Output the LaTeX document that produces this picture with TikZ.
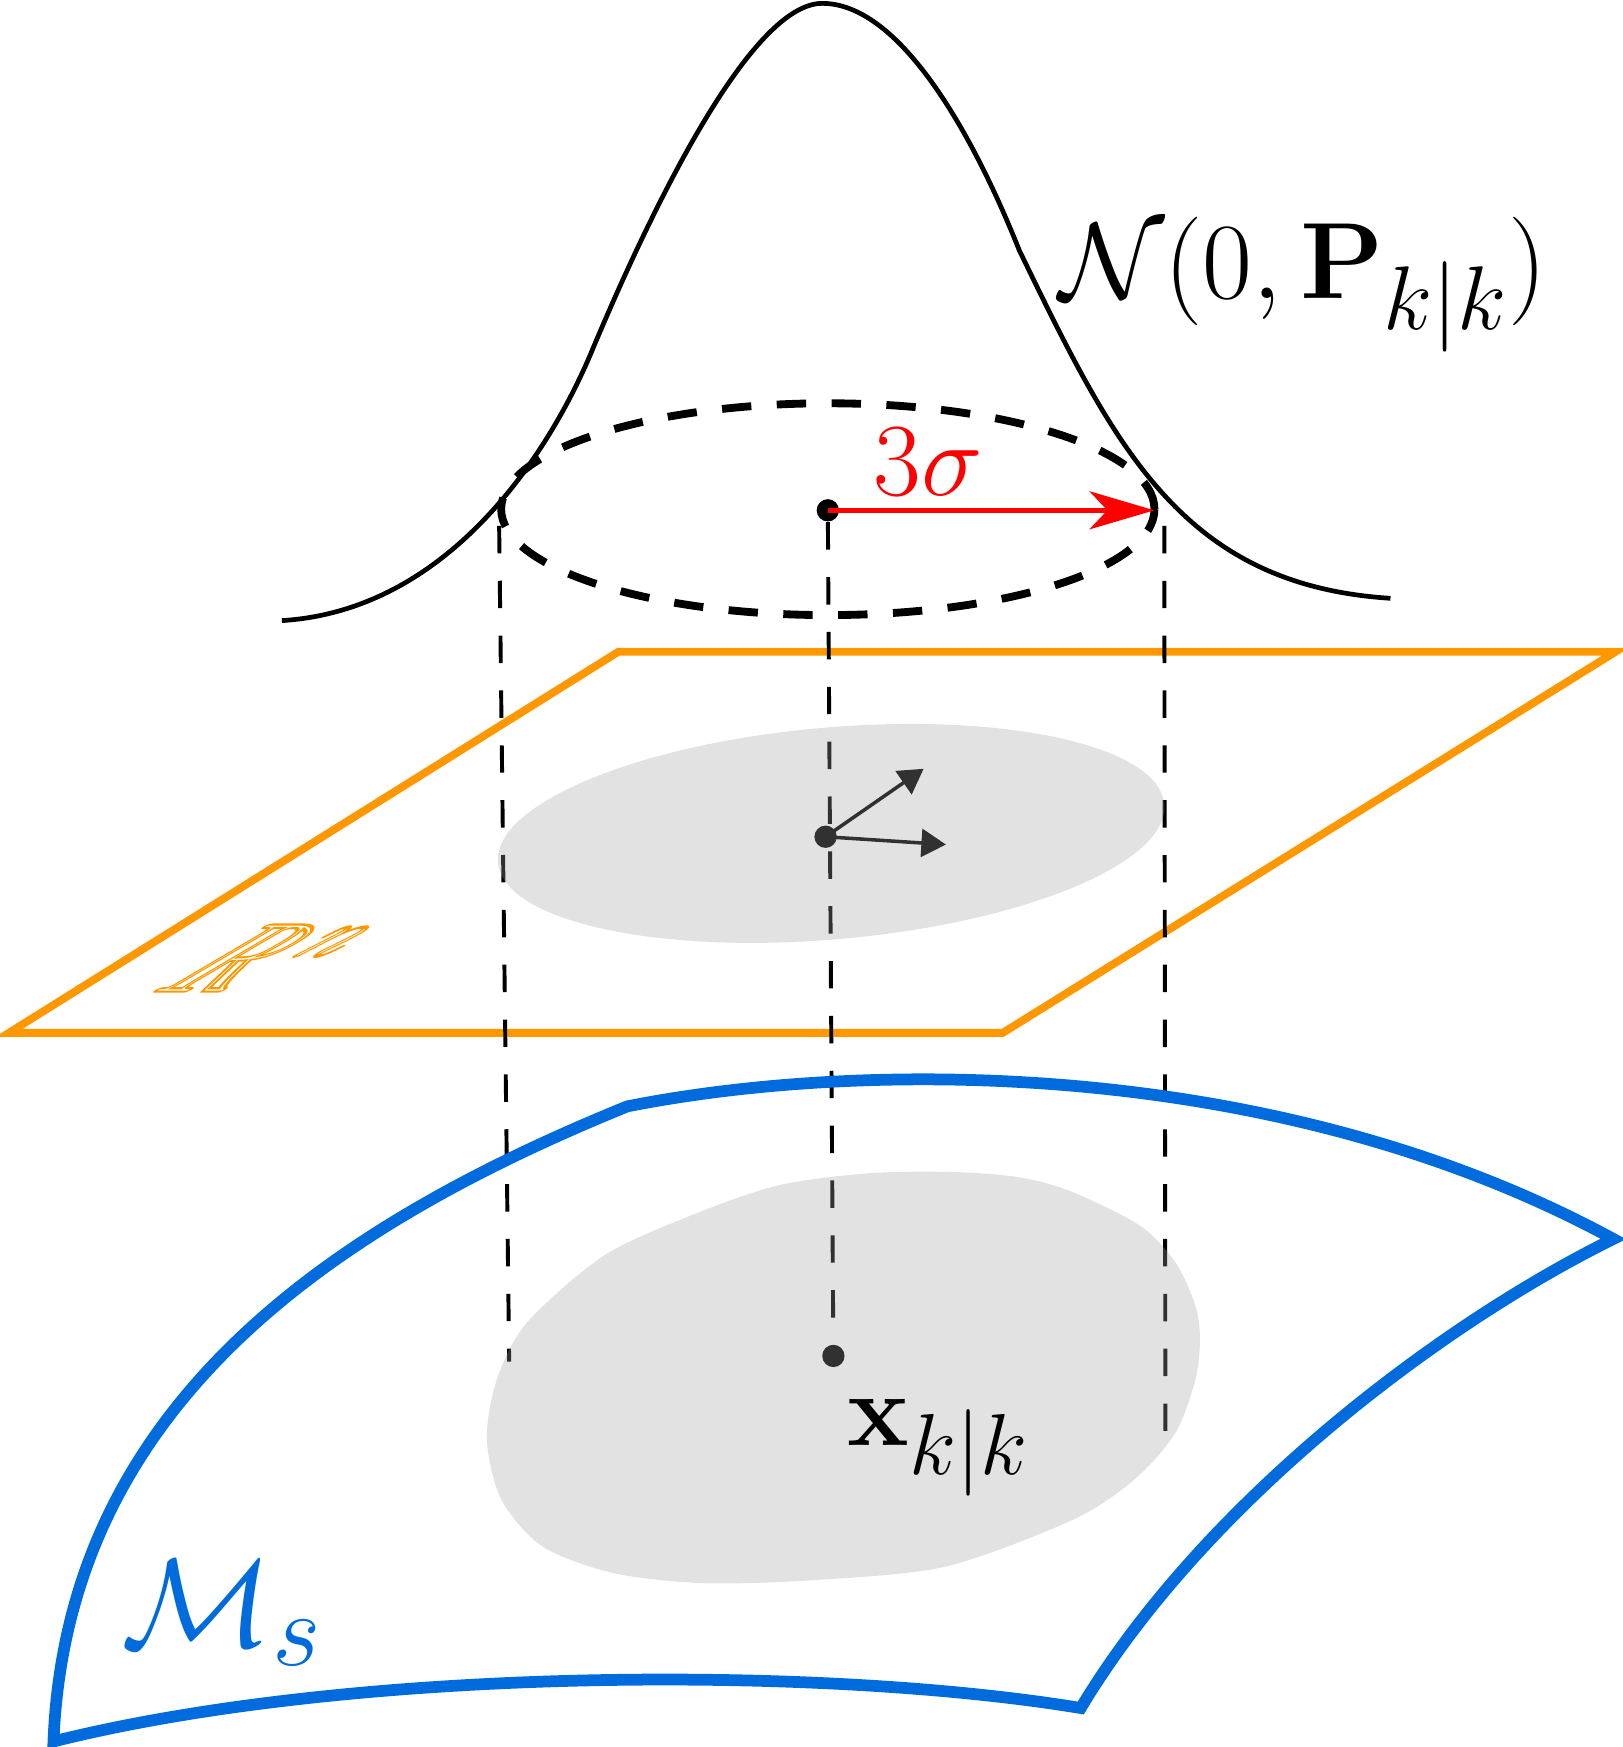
\documentclass[tikz,border=0pt]{standalone}
\usepackage{amssymb}
\usetikzlibrary{arrows.meta}
\definecolor{planeorange}{RGB}{255,152,0}
\definecolor{manblue}{RGB}{0,107,221}
\definecolor{patchgray}{RGB}{161,161,161}
\newcommand{\hollow}[1]{\special{pdf:literal direct 0.55 w 1 Tr}#1\special{pdf:literal direct 0 Tr}}
\begin{document}
\begin{tikzpicture}[x=0.01cm, y=-0.01cm,
  lab/.style={font=\Huge, inner sep=0pt, scale=1.065},
  bellcurve/.style={line width=1.2pt},
  sigring/.style={line width=2pt, dash pattern=on 7.5pt off 6.5pt},
  dropline/.style={line width=1pt, dash pattern=on 7pt off 7pt},
  rnplane/.style={draw=planeorange, line width=2pt},
  manedge/.style={draw=manblue, line width=3pt},
  graypatch/.style={fill=patchgray, fill opacity=0.31},
  ctr/.style={circle, fill=black, inner sep=0pt, minimum size=0.2cm},
  basisvec/.style={line width=0.9pt, -{Triangle[length=2.2mm, width=2.5mm]}},
  sigarrow/.style={red, line width=1.4pt, -{Stealth[length=5.8mm, width=3.4mm, inset=1.6mm]}}
]
\useasboundingbox (0,0) rectangle (1456,1568);

\draw[bellcurve] (253,557) .. controls (400,548) and (490,412) .. (530,318)
  .. controls (575,210) and (670,3) .. (738,3)
  .. controls (805,3) and (870,112) .. (915,225)
  .. controls (1000,400) and (1060,525) .. (1248,537);
\draw[sigring] (743,457) ellipse [x radius=2.93cm, y radius=0.95cm];

\node[ctr] (mu) at (743,458) {};
\coordinate (rim) at (1036,458);
\draw[sigarrow] (mu.center) -- (rim);
\node[lab, text=red, anchor=base] (sig) at (833,445) {$3\sigma$};

\draw[rnplane] (8,927) -- (555,585) -- (1450,585) -- (900,927) -- cycle;
\node[text=planeorange, inner sep=0pt, anchor=base west, xslant=1.7,
  font=\fontsize{25}{30}\selectfont] (rn) at (136,890) {\hollow{$\mathbb{R}^{\mkern1.5mu n}$}};

\node[ctr] (o) at (741,751) {};
\coordinate (e1) at (829,690);
\coordinate (e2) at (849,758);
\draw[basisvec] (o.center) -- (e1);
\draw[basisvec] (o.center) -- (e2);

\node[ctr] (xk) at (748,1217) {};
\coordinate (lt) at (448,472);
\coordinate (lb) at (457,1222);
\coordinate (rt) at (1045,472);
\coordinate (rb) at (1046,1290);
\draw[dropline] (lt) -- (lb);
\draw[dropline] (mu) -- (xk);
\draw[dropline] (rt) -- (rb);

\draw[manedge] (48,1563) .. controls (60,1260) and (300,1100) .. (563,993)
  .. controls (780,950) and (1150,950) .. (1448,1112)
  .. controls (1290,1190) and (1080,1350) .. (970,1533)
  .. controls (740,1495) and (320,1495) .. (48,1563) -- cycle;

\fill[graypatch, rotate around={5:(746,748)}] (746,748) ellipse [x radius=3cm, y radius=0.95cm];
\fill[graypatch] plot[smooth cycle] coordinates {(858,1052) (917,1057) (963,1070)
  (1023,1100) (1055,1133) (1073,1172) (1077,1202) (1073,1238) (1055,1286)
  (1018,1328) (963,1364) (849,1406) (734,1418) (633,1421) (551,1412) (487,1388)
  (450,1346) (437,1292) (446,1238) (473,1187) (542,1127) (620,1091) (698,1064)
  (780,1053)};

\node[lab, anchor=base west] (xlab) at (760,1297) {$\mathbf{x}_{k|k}$};
\node[lab, anchor=base west, scale=1.045] (gauss) at (950,268) {$\mathcal{N}(0,\mathbf{P}_{k|k})$};
\node[lab, text=manblue, anchor=base west, scale=1.21] (mlab) at (108,1478) {$\mathcal{M}_s$};
\end{tikzpicture}
\end{document}
